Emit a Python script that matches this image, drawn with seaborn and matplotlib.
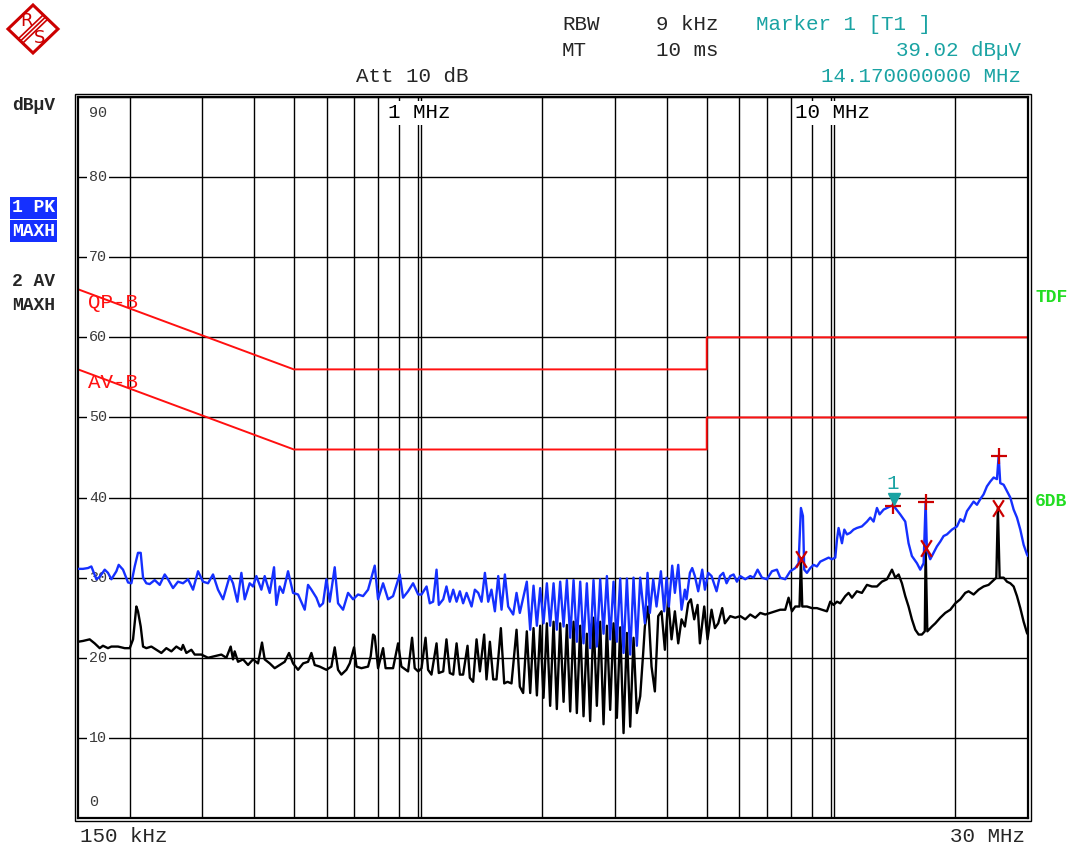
import numpy as np
import pandas as pd
import matplotlib
matplotlib.use("Agg")
import matplotlib.pyplot as plt
import seaborn as sns
from matplotlib.patches import Polygon, Rectangle
from matplotlib.path import Path
from matplotlib.lines import Line2D
from matplotlib.transforms import ScaledTranslation

# ---------------- data (frequency in MHz, level in dBuV) ----------------
pk_points = [  # trace 1: PK MAXH (blue)
    (0.150, 31.1), (0.1542, 31.1), (0.1586, 31.2), (0.1616, 31.4), (0.1662, 29.8), (0.1693, 30.1),
    (0.1741, 31.0), (0.1773, 30.6), (0.1807, 29.8), (0.1858, 30.8), (0.1882, 31.6), (0.1928, 31.0),
    (0.1983, 29.4), (0.2020, 29.3), (0.2058, 31.4), (0.2096, 33.1), (0.2128, 33.1), (0.2156, 30.0),
    (0.2196, 29.3), (0.2237, 29.2), (0.2301, 29.7), (0.2366, 29.1), (0.2433, 30.4), (0.2478, 29.8),
    (0.2548, 28.7), (0.2620, 29.5), (0.2694, 29.3), (0.2771, 29.8), (0.2849, 28.5), (0.2930, 30.8),
    (0.3012, 29.5), (0.3098, 29.3), (0.3185, 30.4), (0.3275, 28.5), (0.3368, 27.3), (0.3496, 30.2),
    (0.3561, 29.3), (0.3648, 27.0), (0.3731, 30.6), (0.3801, 27.3), (0.3908, 29.3), (0.3981, 28.9),
    (0.4056, 30.2), (0.4171, 28.5), (0.4249, 30.2), (0.4370, 28.1), (0.4476, 31.3), (0.4535, 26.6),
    (0.4620, 28.9), (0.4707, 28.1), (0.4840, 30.8), (0.4977, 28.1), (0.5118, 27.9), (0.5312, 26.0),
    (0.5411, 29.1), (0.5513, 28.5), (0.5669, 27.5), (0.5775, 26.4), (0.5884, 26.8), (0.5994, 29.8),
    (0.6107, 27.0), (0.6279, 31.3), (0.6397, 26.8), (0.6578, 26.0), (0.6764, 28.1), (0.6956, 27.3),
    (0.7152, 27.9), (0.7355, 27.7), (0.7563, 28.5), (0.7849, 31.5), (0.7996, 27.3), (0.8223, 29.3),
    (0.8455, 27.3), (0.8694, 27.7), (0.9024, 30.4), (0.9193, 27.5), (0.9453, 28.3), (0.9721, 29.3),
    (1.000, 27.9), (1.019, 27.9), (1.048, 28.9), (1.067, 26.8), (1.087, 27.0), (1.108, 31.0),
    (1.122, 26.6), (1.150, 27.3), (1.171, 28.9), (1.193, 27.0), (1.216, 28.5), (1.239, 27.0),
    (1.262, 28.3), (1.285, 26.8), (1.310, 28.1), (1.347, 26.4), (1.372, 28.5), (1.398, 28.1),
    (1.424, 27.0), (1.451, 30.6), (1.478, 27.0), (1.505, 28.5), (1.534, 25.8), (1.563, 30.2),
    (1.592, 26.0), (1.622, 30.4), (1.652, 26.4), (1.699, 25.4), (1.731, 28.1), (1.763, 25.6),
    (1.833, 29.5), (1.868, 23.5), (1.903, 29.0), (1.939, 24.0), (1.975, 28.7), (2.012, 24.3),
    (2.050, 29.3), (2.088, 24.0), (2.128, 29.3), (2.167, 23.5), (2.208, 29.5), (2.250, 23.9),
    (2.292, 29.7), (2.335, 22.5), (2.379, 29.7), (2.423, 22.0), (2.469, 29.5), (2.515, 21.8),
    (2.562, 29.3), (2.610, 21.2), (2.659, 29.7), (2.709, 21.4), (2.760, 29.8), (2.812, 23.0),
    (2.865, 30.2), (2.918, 22.3), (2.973, 29.5), (3.029, 22.0), (3.086, 29.9), (3.144, 20.6),
    (3.203, 29.9), (3.263, 20.4), (3.324, 30.0), (3.386, 21.5), (3.450, 30.0),
    (3.541, 24.3), (3.594, 30.6), (3.641, 25.6), (3.710, 29.8), (3.779, 26.4),
    (3.872, 30.8), (3.944, 25.8), (3.996, 30.0), (4.048, 26.4), (4.124, 31.5), (4.186, 28.1),
    (4.265, 31.6), (4.345, 26.0), (4.426, 28.5), (4.468, 27.3), (4.552, 30.6), (4.611, 31.2),
    (4.680, 30.2), (4.768, 28.3), (4.876, 31.0), (4.949, 28.5), (5.042, 30.6), (5.136, 30.2),
    (5.282, 28.3), (5.381, 30.2), (5.482, 30.6), (5.585, 29.3), (5.700, 30.2), (5.808, 30.4),
    (5.916, 29.5), (6.027, 30.2), (6.198, 29.8), (6.373, 30.2), (6.493, 30.0), (6.640, 31.0),
    (6.802, 30.0), (6.994, 29.8), (7.192, 30.8), (7.395, 31.0), (7.534, 30.0), (7.747, 29.8),
    (7.966, 30.8), (8.192, 31.2), (8.345, 31.8), (8.455, 38.7), (8.550, 37.7), (8.613, 31.0),
    (8.743, 30.6), (8.907, 31.2), (9.074, 31.6), (9.244, 31.4), (9.417, 32.0), (9.683, 32.3),
    (9.866, 32.5), (10.05, 32.3), (10.24, 32.5), (10.34, 34.8), (10.43, 36.2), (10.63, 34.3),
    (10.77, 36.0), (10.93, 35.4), (11.13, 35.6), (11.34, 36.0), (11.55, 36.2), (11.88, 36.4),
    (12.22, 37.0), (12.45, 37.5), (12.68, 37.0), (12.92, 38.7), (13.11, 37.9), (13.41, 38.5),
    (13.66, 38.7), (14.05, 39.0), (14.17, 39.02), (14.31, 38.7), (14.71, 37.9), (15.13, 37.0),
    (15.41, 34.3), (15.70, 32.7), (16.15, 31.8), (16.45, 31.0), (16.76, 31.8), (16.95, 39.5),
    (17.07, 33.5), (17.39, 32.3), (17.72, 33.1), (18.05, 33.9), (18.39, 34.5), (18.74, 35.2),
    (19.09, 35.4), (19.63, 36.0), (20.19, 36.4), (20.56, 37.3), (20.95, 37.0), (21.34, 38.3),
    (21.74, 38.9), (22.15, 39.5), (22.57, 39.1), (22.99, 39.8), (23.42, 40.4), (23.86, 41.4),
    (24.31, 42.0), (24.77, 42.5), (25.23, 42.3), (25.47, 45.2), (25.70, 41.8), (26.19, 41.6),
    (26.68, 40.8), (27.18, 40.0), (27.69, 38.5), (28.21, 37.5), (28.74, 36.0), (29.28, 34.1),
    (29.83, 32.9), (30.00, 32.7),
]

av_points = [  # trace 2: AV MAXH (black)
    (0.150, 22.0), (0.1542, 22.1), (0.1601, 22.3), (0.1646, 21.8), (0.1693, 21.2), (0.1724, 21.5),
    (0.1773, 21.2), (0.1807, 21.4), (0.1875, 21.4), (0.1946, 21.2), (0.2002, 21.2), (0.2039, 22.3),
    (0.2077, 26.4), (0.2096, 25.8), (0.2128, 23.9), (0.2156, 21.4), (0.2196, 21.2), (0.2258, 21.4),
    (0.2322, 21.0), (0.2388, 20.6), (0.2455, 21.2), (0.2525, 20.8), (0.2596, 21.4), (0.2669, 21.0),
    (0.2694, 21.6), (0.2745, 20.6), (0.2823, 21.0), (0.2876, 20.4), (0.2985, 20.4), (0.3098, 20.0),
    (0.3215, 20.2), (0.3337, 20.4), (0.3431, 20.0), (0.3515, 21.4), (0.3561, 19.8), (0.3594, 20.8),
    (0.3662, 19.5), (0.3766, 19.8), (0.3872, 19.1), (0.3981, 19.8), (0.4094, 19.3), (0.4186, 21.9),
    (0.4249, 19.8), (0.4370, 19.3), (0.4493, 18.7), (0.4620, 19.1), (0.4751, 19.5), (0.4867, 20.6),
    (0.4977, 19.3), (0.5118, 18.5), (0.5265, 19.3), (0.5411, 19.5), (0.5513, 20.6), (0.5616, 19.1),
    (0.5775, 18.9), (0.5994, 18.5), (0.6164, 18.9), (0.6279, 21.3), (0.6397, 18.5), (0.6517, 17.9),
    (0.6701, 18.5), (0.6828, 19.3), (0.6994, 21.3), (0.7090, 18.9), (0.7286, 18.7), (0.7563, 18.9),
    (0.7675, 20.2), (0.7777, 22.9), (0.7849, 22.7), (0.7996, 18.7), (0.8223, 21.2), (0.8340, 18.7),
    (0.8694, 18.7), (0.8940, 21.8), (0.9108, 18.9), (0.9453, 18.3), (0.9667, 22.5), (0.9811, 18.7),
    (1.000, 18.3), (1.019, 18.7), (1.042, 22.5), (1.057, 18.5), (1.077, 17.9), (1.108, 21.8),
    (1.122, 18.1), (1.150, 18.3), (1.171, 22.3), (1.193, 18.1), (1.216, 17.9), (1.239, 21.8),
    (1.262, 17.9), (1.285, 17.9), (1.317, 21.5), (1.334, 17.5), (1.359, 17.0), (1.385, 22.3),
    (1.411, 18.3), (1.445, 22.9), (1.464, 17.3), (1.492, 22.0), (1.520, 17.3), (1.548, 17.3),
    (1.586, 23.7), (1.616, 16.8), (1.646, 17.0), (1.683, 16.8), (1.731, 23.5), (1.763, 16.4),
    (1.796, 15.6),
    (1.833, 23.3), (1.868, 15.6), (1.903, 23.7), (1.939, 15.3), (1.975, 24.0), (2.012, 15.0),
    (2.050, 24.3), (2.088, 14.0), (2.128, 24.5), (2.167, 13.6), (2.208, 24.3), (2.250, 14.5),
    (2.292, 24.1), (2.335, 13.3), (2.379, 24.5), (2.423, 13.1), (2.469, 24.0), (2.515, 12.7),
    (2.562, 23.0), (2.610, 12.1), (2.659, 25.0), (2.709, 14.0), (2.760, 24.5), (2.812, 11.7),
    (2.865, 24.0), (2.918, 13.5), (2.973, 24.3), (3.029, 12.5), (3.086, 23.8), (3.144, 10.6),
    (3.203, 23.1), (3.263, 11.4), (3.324, 22.5), (3.386, 13.1), (3.450, 15.2),
    (3.508, 20.6), (3.541, 23.9), (3.608, 26.4), (3.675, 18.9), (3.744, 15.8), (3.815, 25.2),
    (3.886, 25.8), (3.959, 21.0), (4.033, 27.3), (4.109, 22.3), (4.186, 25.8), (4.265, 21.8),
    (4.345, 24.8), (4.426, 23.9), (4.509, 26.8), (4.577, 27.3), (4.663, 24.8), (4.751, 26.6),
    (4.813, 21.8), (4.931, 26.4), (5.023, 22.3), (5.136, 26.0), (5.233, 23.7), (5.331, 24.3),
    (5.451, 26.2), (5.533, 24.3), (5.700, 25.2), (5.862, 25.0), (6.027, 25.2), (6.198, 24.8),
    (6.373, 25.4), (6.554, 25.0), (6.739, 25.6), (6.930, 25.4), (7.125, 25.6), (7.327, 25.8),
    (7.534, 26.0), (7.747, 26.0), (7.892, 27.5), (8.041, 25.8), (8.192, 26.4), (8.389, 26.4),
    (8.455, 32.3), (8.518, 26.4), (8.743, 26.4), (8.990, 26.2), (9.244, 26.2), (9.506, 26.0),
    (9.774, 25.8), (9.958, 27.0), (10.14, 26.6), (10.34, 27.0), (10.53, 26.8), (10.83, 27.7),
    (11.03, 28.1), (11.24, 27.5), (11.55, 28.3), (11.88, 28.1), (12.22, 29.1), (12.56, 28.9),
    (12.92, 28.9), (13.28, 29.5), (13.66, 29.8), (14.05, 31.0), (14.31, 30.0), (14.58, 30.4),
    (14.85, 29.3), (15.13, 27.7), (15.41, 26.4), (15.70, 24.8), (16.00, 23.5), (16.30, 22.9),
    (16.60, 22.9), (16.87, 23.3), (16.95, 33.7), (17.11, 23.3), (17.55, 23.9), (17.89, 24.3),
    (18.39, 25.0), (18.91, 25.6), (19.45, 26.0), (20.00, 26.8), (20.56, 27.3), (21.14, 28.1),
    (21.54, 28.3), (22.15, 27.9), (22.78, 28.5), (23.42, 28.9), (24.08, 29.1), (24.54, 29.5),
    (25.14, 30.0), (25.36, 38.7), (25.61, 30.0), (26.19, 30.0), (26.68, 29.5), (27.18, 29.3),
    (27.69, 28.9), (28.21, 27.7), (28.74, 26.2), (29.28, 24.5), (29.83, 23.1), (30.00, 22.9),
]

qp_limit_freq = [0.15, 0.5, 5.0, 5.0, 30.0]
qp_limit_level = [66, 56, 56, 60, 60]
av_limit_freq = [0.15, 0.5, 5.0, 5.0, 30.0]
av_limit_level = [56, 46, 46, 50, 50]

peak_plus_freq = [14.1, 16.95, 25.47]
peak_plus_level = [39.0, 39.5, 45.2]
peak_x_freq = [8.455, 16.95, 25.36]
peak_x_level = [32.3, 33.7, 38.7]

marker1_freq = 14.17
marker1_level = 39.02

grid_freqs = [0.2, 0.3, 0.4, 0.5, 0.6, 0.7, 0.8, 0.9, 1, 2, 3, 4, 5, 6, 7, 8, 9, 10, 20]
level_ticks = [0, 10, 20, 30, 40, 50, 60, 70, 80, 90]
decade_labels = [(1.0, "1 MHz"), (10.0, "10 MHz")]

# ---------------- style ----------------
sns.set_theme(style="white")
plt.rcParams['font.family'] = ['Liberation Mono', 'DejaVu Sans Mono', 'DejaVu Sans']

BLUE = '#1530ff'
RED = '#ff1010'
DRED = '#cc0000'
TEAL = '#1aa3a3'
GREEN = '#22dd22'
FS = 15

W, H = 1072, 851
fig = plt.figure(figsize=(W / 100, H / 100), dpi=100)
fig.patch.set_facecolor('white')
L, R, T, B = 78, 1028, 97, 818
ax = fig.add_axes([L / W, 1 - B / H, (R - L) / W, (B - T) / H])
ax.set_facecolor('white')


def ftext(x, y, s, **kw):
    kw.setdefault('va', 'center')
    kw.setdefault('ha', 'left')
    kw.setdefault('fontsize', FS)
    return fig.text(x / W, 1 - y / H, s, **kw)


# traces
df = pd.concat([
    pd.DataFrame({'freq': [p[0] for p in av_points], 'level': [p[1] for p in av_points], 'trace': '2 AV'}),
    pd.DataFrame({'freq': [p[0] for p in pk_points], 'level': [p[1] for p in pk_points], 'trace': '1 PK'}),
], ignore_index=True)

ax.set_xscale('log')
sns.lineplot(data=df, x='freq', y='level', hue='trace', hue_order=['2 AV', '1 PK'],
             palette={'2 AV': 'black', '1 PK': BLUE}, estimator=None, sort=False,
             linewidth=1.7, legend=False, ax=ax, zorder=3)

# limit lines
ax.plot(qp_limit_freq, qp_limit_level, color=RED, lw=1.4, zorder=2.5)
ax.plot(av_limit_freq, av_limit_level, color=RED, lw=1.4, zorder=2.5)

ax.set_xlim(0.15, 30)
ax.set_ylim(0, 90)
ax.set_xticks(grid_freqs)
ax.set_xticks([], minor=True)
ax.set_yticks(level_ticks)
ax.tick_params(length=0, labelbottom=False, labelleft=False)
ax.set_xlabel('')
ax.set_ylabel('')
ax.grid(True, which='major', color='black', lw=1.0, zorder=1)
ax.set_axisbelow(True)
for f, _ in decade_labels:
    ax.axvline(f * 1.016, color='black', lw=1.0, zorder=1)
for sp in ax.spines.values():
    sp.set_color('black')
    sp.set_linewidth(1.6)

# outer frame line
fig.patches.append(Rectangle(((L - 3) / W, 1 - (B + 3) / H), (R - L + 6) / W, (B - T + 6) / H,
                             transform=fig.transFigure, fill=False, ec='black', lw=1.0))

# level labels inside the plot
for lv in level_ticks:
    off = 0
    if lv == 90:
        off = -16
    elif lv == 0:
        off = 16
    ax.annotate(str(lv), xy=(0.0116, lv), xycoords=('axes fraction', 'data'),
                xytext=(0, off), textcoords='offset pixels', ha='left', va='center',
                fontsize=10.8, color='#3a3a3a', zorder=2,
                bbox=dict(boxstyle='square,pad=0.15', fc='white', ec='none'))

# decade labels at top
for f, lab in decade_labels:
    ax.annotate(lab, xy=(f * 1.008, 1), xycoords=('data', 'axes fraction'),
                xytext=(0, -16), textcoords='offset pixels', ha='center', va='center',
                fontsize=FS, color='black', zorder=5,
                bbox=dict(boxstyle='square,pad=0.1', fc='white', ec='none'))

# peak markers
x_marker = Path([(-0.32, -0.5), (0.32, 0.5), (-0.32, 0.5), (0.32, -0.5)],
                [Path.MOVETO, Path.LINETO, Path.MOVETO, Path.LINETO])
ax.plot(peak_plus_freq, peak_plus_level, ls='none', marker='+', ms=12, mew=1.6, color=DRED, zorder=4)
ax.plot(peak_x_freq, peak_x_level, ls='none', marker=x_marker, ms=12, mew=1.6, color=DRED, zorder=4)

# marker 1
tri_trans = ax.transData + ScaledTranslation(0, 6 / 100, fig.dpi_scale_trans)
ax.plot([marker1_freq], [marker1_level], ls='none', marker='v', ms=9, color=TEAL, zorder=5,
        transform=tri_trans)
ax.annotate('1', xy=(marker1_freq, marker1_level), xytext=(-1, 22), textcoords='offset pixels',
            ha='center', va='center', fontsize=FS, color=TEAL, zorder=5)

# header
ftext(562, 24, 'RBW')
ftext(656, 24, '9 kHz')
ftext(756, 24, 'Marker 1 [T1 ]', color=TEAL)
ftext(562, 51, 'MT')
ftext(656, 51, '10 ms')
ftext(1021, 51, f'{marker1_level:.2f} dBµV', ha='right', color=TEAL)
ftext(356, 77, 'Att 10 dB')
ftext(1021, 77, f'{marker1_freq:.9f} MHz', ha='right', color=TEAL)

# bottom labels
ftext(80, 836, '150 kHz')
ftext(1025, 836, '30 MHz', ha='right')

# left labels
ftext(12, 105, 'dBµV', fontsize=13, weight='bold')
ftext(12, 208, '1 PK', fontsize=13, weight='bold', color='white',
      bbox=dict(boxstyle='square,pad=0.12', fc=BLUE, ec='none'))
ftext(12, 231, 'MAXH', fontsize=13, weight='bold', color='white',
      bbox=dict(boxstyle='square,pad=0.12', fc=BLUE, ec='none'))
ftext(12, 281, '2 AV', fontsize=13, weight='bold')
ftext(12, 305, 'MAXH', fontsize=13, weight='bold')

# right labels
ftext(1035, 297, 'TDF', fontsize=13, weight='bold', color=GREEN)
ftext(1035, 501, '6DB', fontsize=13, weight='bold', color=GREEN)

# limit line names
ftext(88, 302, 'QP-B', color=RED)
ftext(88, 382, 'AV-B', color=RED)

# logo
axl = fig.add_axes([0, 1 - 60 / H, 70 / W, 60 / H])
axl.set_xlim(0, 70)
axl.set_ylim(60, 0)
axl.axis('off')
axl.add_patch(Polygon([(33, 5), (58, 29), (33, 53), (8, 29)], closed=True, fill=False,
                      ec=DRED, lw=2.2))
for d in (-2.2, 0.0, 2.2):
    axl.add_line(Line2D([20.5 + d, 45.5 + d], [41 + d, 17 + d], color=DRED, lw=1.2))
axl.text(26, 21, 'R', color=DRED, fontsize=13, family='DejaVu Sans', ha='center', va='center')
axl.text(40, 38, 'S', color=DRED, fontsize=13, family='DejaVu Sans', ha='center', va='center')

fig.savefig('out.png', dpi=100, facecolor='white')
